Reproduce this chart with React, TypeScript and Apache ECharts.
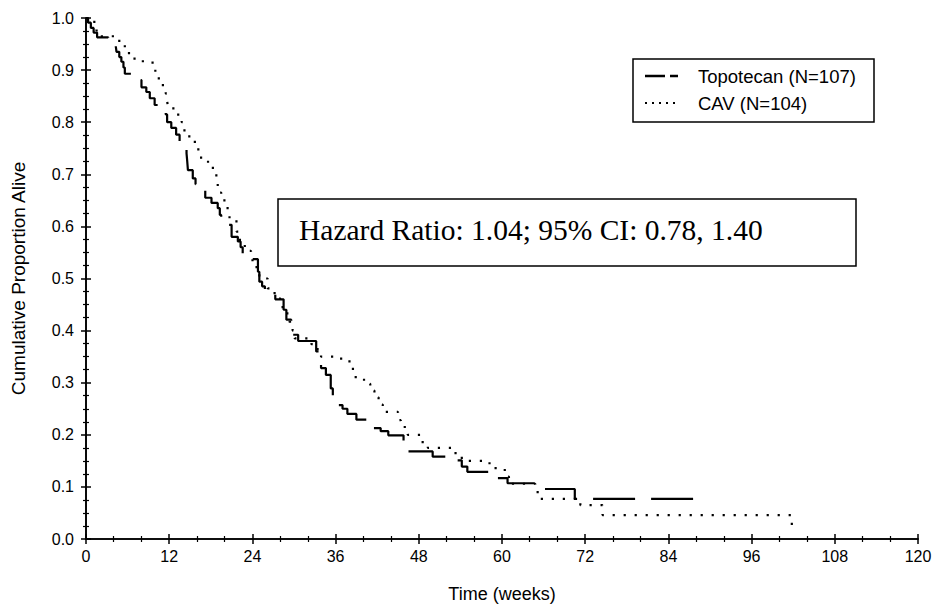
import React, { useEffect, useRef } from "react";
import * as echarts from "echarts";

// Kaplan-Meier step points (time in weeks, cumulative proportion alive)
const topoTimes = [0, 0.3, 0.7, 1.1, 1.6, 3.2, 4.3, 4.4, 4.8, 5.1, 5.4, 5.6, 7.0, 8.0, 8.7, 9.2, 9.9, 11.0, 11.5, 11.7, 12.3, 13.0, 13.5, 14.5, 14.6, 14.7, 15.4, 15.8, 16.1, 17.2, 18.1, 19.0, 19.3, 19.5, 20.0, 21.0, 21.9, 22.3, 22.6, 23.1, 24.8, 25.0, 25.4, 25.8, 27.3, 28.5, 28.9, 29.6, 29.8, 30.6, 33.2, 33.7, 33.9, 34.6, 35.3, 35.6, 36.3, 37.0, 37.7, 39.0, 41.2, 42.5, 43.6, 45.8, 46.3, 50.0, 52.0, 54.2, 55.0, 58.5, 60.8, 65.5, 70.5, 88.5];
const topoSurv = [1.0, 0.991, 0.981, 0.972, 0.963, 0.955, 0.945, 0.935, 0.925, 0.916, 0.905, 0.893, 0.881, 0.867, 0.858, 0.846, 0.833, 0.825, 0.815, 0.8, 0.789, 0.776, 0.757, 0.74, 0.725, 0.708, 0.692, 0.681, 0.671, 0.655, 0.645, 0.635, 0.622, 0.61, 0.603, 0.58, 0.571, 0.56, 0.547, 0.537, 0.513, 0.494, 0.485, 0.475, 0.46, 0.44, 0.421, 0.411, 0.392, 0.38, 0.36, 0.347, 0.328, 0.315, 0.289, 0.27, 0.257, 0.25, 0.24, 0.229, 0.213, 0.207, 0.199, 0.185, 0.168, 0.158, 0.151, 0.139, 0.129, 0.117, 0.107, 0.096, 0.077, 0.077];

const cavTimes = [0, 1.2, 1.5, 2.0, 4.8, 5.6, 6.2, 7.0, 9.6, 10.0, 10.5, 10.9, 11.5, 11.7, 11.8, 12.6, 13.3, 13.8, 14.2, 14.9, 15.7, 16.2, 16.6, 17.6, 18.3, 18.8, 19.0, 19.5, 20.2, 20.7, 21.7, 22.2, 22.9, 23.8, 24.6, 25.0, 26.2, 27.2, 28.0, 28.6, 29.3, 29.8, 30.1, 32.5, 33.4, 33.9, 36.8, 38.0, 38.5, 38.9, 40.1, 41.0, 41.6, 42.2, 42.8, 45.0, 45.4, 46.4, 48.3, 49.3, 53.3, 54.2, 58.2, 60.4, 61.0, 64.8, 65.4, 71.3, 74.5, 101.8];
const cavSurv = [1.0, 0.99, 0.976, 0.965, 0.952, 0.94, 0.927, 0.917, 0.905, 0.895, 0.882, 0.871, 0.855, 0.842, 0.83, 0.822, 0.812, 0.8, 0.782, 0.766, 0.755, 0.74, 0.728, 0.718, 0.702, 0.683, 0.665, 0.65, 0.635, 0.612, 0.59, 0.57, 0.553, 0.535, 0.518, 0.5, 0.481, 0.462, 0.445, 0.433, 0.417, 0.4, 0.385, 0.374, 0.36, 0.35, 0.344, 0.334, 0.32, 0.308, 0.298, 0.285, 0.272, 0.258, 0.244, 0.228, 0.215, 0.2, 0.186, 0.175, 0.16, 0.15, 0.136, 0.12, 0.106, 0.09, 0.077, 0.065, 0.046, 0.019];

const seriesNames = ["Topotecan (N=107)", "CAV (N=104)"];
const xTicks = { min: 0, max: 120, interval: 12 };
const yTicks = { min: 0, max: 1, interval: 0.1 };
const hazardText = "Hazard Ratio: 1.04; 95% CI: 0.78, 1.40";
const xTitle = "Time (weeks)";
const yTitle = "Cumulative Proportion Alive";

const SANS = '"Liberation Sans", Arial, sans-serif';
const SERIF = '"Liberation Serif", "Times New Roman", serif';

function pairs(t: number[], s: number[]) {
  return t.map((v, i) => [v, s[i]]);
}

export default function App() {
  const ref = useRef<HTMLDivElement>(null);
  useEffect(() => {
    if (!ref.current) return;
    const chart = echarts.init(ref.current, undefined, { renderer: "svg" });
    const axisCommon = {
      axisLine: { show: true, lineStyle: { color: "#000", width: 1.6 } },
      axisTick: { show: true, inside: true, length: 5, lineStyle: { color: "#000", width: 1.5 } },
      minorTick: { show: true, length: 3, lineStyle: { color: "#000", width: 1.2 } },
      splitLine: { show: false },
      minorSplitLine: { show: false },
    };
    chart.setOption({
      animation: false,
      backgroundColor: "#fff",
      grid: { left: 86, right: 20, top: 18, bottom: 72, containLabel: false },
      xAxis: [
        {
          type: "value",
          position: "bottom",
          ...xTicks,
          ...axisCommon,
          minorTick: { ...axisCommon.minorTick, splitNumber: 3 },
          axisLabel: { color: "#000", fontSize: 16, fontFamily: SANS, margin: 9 },
          name: xTitle,
          nameLocation: "middle",
          nameGap: 46,
          nameTextStyle: { color: "#000", fontSize: 18, fontFamily: SANS },
        },
        {
          type: "value",
          position: "top",
          ...xTicks,
          ...axisCommon,
          minorTick: { ...axisCommon.minorTick, splitNumber: 3 },
          axisLabel: { show: false },
        },
      ],
      yAxis: [
        {
          type: "value",
          position: "left",
          ...yTicks,
          ...axisCommon,
          minorTick: { ...axisCommon.minorTick, splitNumber: 4 },
          axisLabel: {
            color: "#000",
            fontSize: 16,
            fontFamily: SANS,
            margin: 12,
            formatter: (v: number) => v.toFixed(1),
          },
          name: yTitle,
          nameLocation: "middle",
          nameGap: 58,
          nameRotate: 90,
          nameTextStyle: { color: "#000", fontSize: 19, fontFamily: SANS },
        },
        {
          type: "value",
          position: "right",
          ...yTicks,
          ...axisCommon,
          minorTick: { ...axisCommon.minorTick, splitNumber: 4 },
          axisLabel: { show: false },
        },
      ],
      series: [
        {
          name: seriesNames[0],
          type: "line",
          step: "end",
          symbol: "none",
          data: pairs(topoTimes, topoSurv),
          lineStyle: { color: "#000", width: 2.2, type: [42, 16] },
          z: 3,
        },
        {
          name: seriesNames[1],
          type: "line",
          step: "end",
          symbol: "none",
          data: pairs(cavTimes, cavSurv),
          lineStyle: { color: "#000", width: 2.2, type: [2.2, 8.8] },
          z: 2,
        },
      ],
      graphic: [
        {
          type: "rect",
          shape: { x: 633, y: 59, width: 241, height: 63 },
          style: { fill: "#fff", stroke: "#000", lineWidth: 1.5 },
          z: 10,
        },
        {
          type: "line",
          shape: { x1: 645, y1: 76, x2: 678, y2: 76 },
          style: { stroke: "#000", lineWidth: 2.5, lineDash: [20, 5] },
          z: 11,
        },
        {
          type: "line",
          shape: { x1: 645, y1: 103, x2: 678, y2: 103 },
          style: { stroke: "#000", lineWidth: 2, lineDash: [2, 5] },
          z: 11,
        },
        {
          type: "text",
          x: 698,
          y: 76,
          style: { text: seriesNames[0], fill: "#000", font: `18.5px ${SANS}`, verticalAlign: "middle" },
          z: 11,
        },
        {
          type: "text",
          x: 698,
          y: 103,
          style: { text: seriesNames[1], fill: "#000", font: `18.5px ${SANS}`, verticalAlign: "middle" },
          z: 11,
        },
        {
          type: "rect",
          shape: { x: 278, y: 199, width: 578, height: 67 },
          style: { fill: "#fff", stroke: "#000", lineWidth: 1.5 },
          z: 10,
        },
        {
          type: "text",
          x: 299,
          y: 230,
          style: { text: hazardText, fill: "#000", font: `29.5px ${SERIF}`, verticalAlign: "middle" },
          z: 11,
        },
      ],
    });
    return () => chart.dispose();
  }, []);
  return <div ref={ref} style={{ width: 938, height: 611, position: "absolute", left: 0, top: 0 }} />;
}
